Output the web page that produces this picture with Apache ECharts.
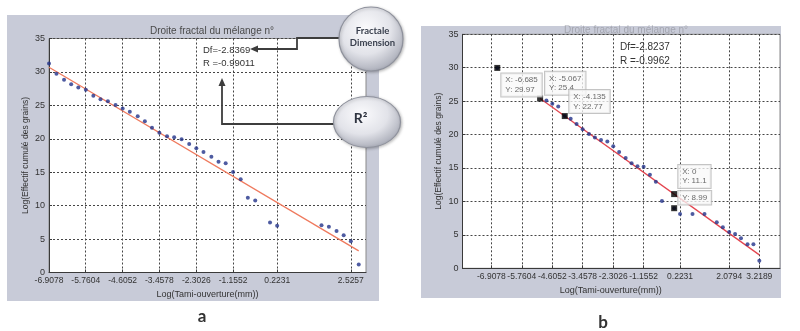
<!DOCTYPE html>
<html>
<head>
<meta charset="utf-8">
<script src="https://cdn.jsdelivr.net/npm/echarts@6/dist/echarts.min.js"></script>
<style>
  html, body { margin: 0; padding: 0; background: #ffffff; }
  #chart { width: 800px; height: 331px; }
</style>
</head>
<body>
<div id="chart"></div>
<script>
// ---- Panel a : log(sieve opening) vs log(cumulative grain count) ----
const ticksA = [-6.9078, -5.7604, -4.6052, -3.4578, -2.3026, -1.1552, 0.2231, 2.5257];
const xA = [-6.9078, -6.6746, -6.4378, -6.2146, -5.9915, -5.7565, -5.5215, -5.2983, -5.0672, -4.8283,
            -4.6052, -4.3820, -4.1352, -3.9120, -3.6889, -3.4578, -3.2189, -2.9957, -2.7646, -2.5257,
            -2.3026, -2.0794, -1.8326, -1.6094, -1.3863, -1.1552, -0.9163, -0.6931, -0.4620, 0,
            0.2231, 1.6094, 1.8405, 2.0794, 2.3026, 2.5257, 2.7726];
const yA = [31.26, 29.72, 28.84, 28.15, 27.67, 27.34, 26.44, 25.92, 25.61, 25.05,
            24.53, 24.05, 23.36, 22.61, 21.66, 20.89, 20.39, 20.22, 19.94, 19.22,
            18.59, 18.02, 17.32, 16.57, 16.35, 15.03, 13.94, 11.17, 10.77, 7.48,
            6.98, 7.06, 6.85, 6.21, 5.58, 4.67, 1.20];
const dfA = -2.8369;
const rA = -0.99011;
const interceptA = 11.1;
const fitSpanA = [-6.9078, 2.7726];

// ---- Panel b ----
const ticksB = [-6.9078, -5.7604, -4.6052, -3.4578, -2.3026, -1.1552, 0.2231, 2.0794, 3.2189];
const xB = [-6.685, -4.8283, -4.6052, -4.3820, -4.135, -3.9120, -3.6889, -3.4578, -3.2189, -2.9957,
            -2.7646, -2.5257, -2.3026, -2.0794, -1.8326, -1.6094, -1.3863, -1.1552, -0.9163, -0.6931,
            -0.4620, 0, 0.2231, 0.6931, 1.1474, 1.6094, 1.8405, 2.0794, 2.3026, 2.5257,
            2.7726, 2.9957, 3.2189];
const yB = [29.97, 25.1, 24.6, 24.2, 22.77, 22.35, 21.6, 20.8, 20.1, 19.55,
            19.2, 18.95, 18.25, 17.4, 16.5, 15.7, 15.25, 15.2, 14.0, 12.95,
            10.07, 8.99, 8.12, 8.12, 8.12, 6.88, 6.13, 5.43, 5.13, 4.49,
            3.59, 3.59, 1.14];
const dfB = -2.8237;
const rB = -0.9962;
const interceptB = 11.1;
const fitSpanB = [-5.067, 3.2189];

// data tips shown on panel b
const tipX = [-6.685, -5.067, -4.135, 0, 0];
const tipY = [29.97, 25.4, 22.77, 11.1, 8.99];
const tipShowsX = [true, true, true, true, false];

const yTicks = [0, 35, 5];           // min, max, step
const titleText = 'Droite fractal du mélange n°';
const xName = 'Log(Tami-ouverture(mm))';
const yName = 'Log(Effectif cumulé des grains)';

// plot boxes
const boxA = { left: 49, top: 38.5, width: 317, height: 234 };
const boxB = { left: 462.5, top: 34.3, width: 317.5, height: 234 };
// tip box placement (relative to the square marker)
const tipBoxPos = [[7, 8.5], [7.9, -23.8], [7.5, -23], [7.1, -26.1], [7.1, -14.2]];

const FONT = '"Liberation Sans", Arial, sans-serif';
const AXIS_COLOR = '#3a3a3a';
const GRID_DASH = [2, 2];
const GRID_COLOR = '#454545';

function zip(xs, ys) { return xs.map((x, i) => [x, ys[i]]); }
function fitLine(df, b, span) { return span.map(x => [x, df * x + b]); }

function xAxisOf(grid, min, max, ticks, namePad) {
  return {
    gridIndex: grid, type: 'value', min: min, max: max, z: 2,
    axisLine: { show: true, onZero: false, lineStyle: { color: AXIS_COLOR, width: 1 } },
    axisTick: { show: true, inside: true, length: 3, customValues: ticks, lineStyle: { color: AXIS_COLOR } },
    axisLabel: { customValues: ticks, formatter: v => String(v), fontFamily: FONT, fontSize: 8.5, color: '#333', margin: 4 },
    splitLine: { show: false },
    name: xName, nameLocation: 'middle', nameGap: 16,
    nameTextStyle: { fontFamily: FONT, fontSize: 9, color: '#333', padding: namePad }
  };
}
function yAxisOf(grid) {
  return {
    gridIndex: grid, type: 'value', min: yTicks[0], max: yTicks[1], interval: yTicks[2], z: 2,
    axisLine: { show: true, onZero: false, lineStyle: { color: AXIS_COLOR, width: 1 } },
    axisTick: { show: true, inside: true, length: 3, lineStyle: { color: AXIS_COLOR } },
    axisLabel: { fontFamily: FONT, fontSize: 9, color: '#333', margin: 4 },
    splitLine: { show: true, lineStyle: { type: GRID_DASH, color: GRID_COLOR, width: 1 } },
    name: yName, nameLocation: 'middle', nameGap: 19,
    nameTextStyle: { fontFamily: FONT, fontSize: 8.5, color: '#333' }
  };
}

// dotted vertical grid lines at the labelled abscissas
function verticalGrid(ticks) {
  return {
    silent: true, symbol: ['none', 'none'], animation: false, z: 2,
    label: { show: false },
    lineStyle: { type: GRID_DASH, color: GRID_COLOR, width: 1 },
    data: ticks.map(v => ({ xAxis: v }))
  };
}

const dotStyle = { color: '#22328a' };

const tipData = tipX.map((x, i) => ({
  value: [x, tipY[i]],
  label: {
    show: true,
    position: tipBoxPos[i],
    formatter: tipShowsX[i] ? ('X: ' + x + '\nY: ' + tipY[i]) : ('Y: ' + tipY[i])
  }
}));

function bubble(cx, cy, r, sy) {
  return {
    type: 'circle', x: cx, y: cy, scaleY: sy,
    shape: { cx: 0, cy: 0, r: r },
    style: {
      fill: { type: 'radial', x: 0.42, y: 0.35, r: 0.7,
        colorStops: [ { offset: 0, color: '#fbfbfd' }, { offset: 0.55, color: '#e2e3e9' }, { offset: 1, color: '#a4a7b3' } ] },
      stroke: '#8e919c', lineWidth: 1.2,
      shadowBlur: 3, shadowColor: 'rgba(0,0,0,0.25)', shadowOffsetX: 1, shadowOffsetY: 1
    }
  };
}

const option = {
  animation: false,
  backgroundColor: '#ffffff',
  title: [
    { text: titleText, left: 207, top: 21, textAlign: 'center',
      textStyle: { fontFamily: FONT, fontSize: 10, fontWeight: 'normal', color: '#4a4a4a' } },
    { text: titleText, left: 621, top: 20, textAlign: 'center',
      textStyle: { fontFamily: FONT, fontSize: 10, fontWeight: 'normal', color: '#a4a6b0' } }
  ],
  grid: [
    Object.assign({ outerBoundsMode: 'none', show: true, backgroundColor: '#ffffff', borderColor: '#8a8a8a', borderWidth: 1, z: 1 }, boxA),
    Object.assign({ outerBoundsMode: 'none', show: true, backgroundColor: '#ffffff', borderColor: '#8a8a8a', borderWidth: 1, z: 1 }, boxB)
  ],
  xAxis: [ xAxisOf(0, -6.9078, 3, ticksA, [0, 0, 0, 0]), xAxisOf(1, -8, 4, ticksB, [0, 21, 0, 0]) ],
  yAxis: [ yAxisOf(0), yAxisOf(1) ],
  series: [
    { type: 'line', xAxisIndex: 0, yAxisIndex: 0, data: fitLine(dfA, interceptA, fitSpanA),
      showSymbol: false, lineStyle: { color: '#ef7a5e', width: 1.3 }, z: 3,
      markLine: verticalGrid(ticksA) },
    { type: 'scatter', xAxisIndex: 0, yAxisIndex: 0, data: zip(xA, yA),
      symbol: 'circle', symbolSize: 4, itemStyle: dotStyle, z: 4 },
    { type: 'line', xAxisIndex: 1, yAxisIndex: 1, data: fitLine(dfB, interceptB, fitSpanB),
      showSymbol: false, lineStyle: { color: '#e4454f', width: 1.3 }, z: 3,
      markLine: verticalGrid(ticksB) },
    { type: 'scatter', xAxisIndex: 1, yAxisIndex: 1, data: zip(xB, yB),
      symbol: 'circle', symbolSize: 4, itemStyle: dotStyle, z: 4 },
    { type: 'scatter', xAxisIndex: 1, yAxisIndex: 1, data: tipData,
      symbol: 'rect', symbolSize: 6, itemStyle: { color: '#000000' }, z: 6,
      label: { fontFamily: FONT, fontSize: 8, lineHeight: 9.5, color: '#444',
        backgroundColor: 'rgba(248,248,248,0.95)', borderColor: '#b5b5b5', borderWidth: 1,
        padding: [2, 4, 2, 4] } }
  ],
  graphic: {
    z: -10,
    elements: [
      // figure backgrounds
      { type: 'rect', z: -10, shape: { x: 7, y: 15, width: 372, height: 286 }, style: { fill: '#c8cbd8' } },
      { type: 'rect', z: -10, shape: { x: 421, y: 26, width: 360, height: 272 }, style: { fill: '#c8cbd8' } }
    ]
  }
};

// overlays drawn above the plots: fit results, callouts, panel letters
const overlay = [
  // upper half of panel b's heading sits outside its figure frame and is washed out
  { type: 'rect', shape: { x: 540, y: 12, width: 165, height: 13.5 }, style: { fill: 'rgba(255,255,255,0.7)' } },
  { type: 'text', x: 203, y: 50, style: { text: 'Df=' + dfA, fontFamily: FONT, fontSize: 9.5, fill: '#333', textVerticalAlign: 'middle' } },
  { type: 'text', x: 203, y: 63, style: { text: 'R =' + rA, fontFamily: FONT, fontSize: 9.5, fill: '#333', textVerticalAlign: 'middle' } },
  { type: 'text', x: 620, y: 47.7, style: { text: 'Df=' + dfB, fontFamily: FONT, fontSize: 10, fill: '#333', textVerticalAlign: 'middle' } },
  { type: 'text', x: 620, y: 61, style: { text: 'R =' + rB, fontFamily: FONT, fontSize: 10, fill: '#333', textVerticalAlign: 'middle' } },
  { type: 'polyline', shape: { points: [[340, 38], [297, 38], [297, 49], [257, 49]] },
    style: { stroke: '#3d3d3d', lineWidth: 1.8, fill: null } },
  { type: 'polygon', shape: { points: [[250, 49], [258, 45.5], [258, 52.5]] }, style: { fill: '#3d3d3d' } },
  { type: 'polyline', shape: { points: [[336, 124], [222, 124], [222, 85]] },
    style: { stroke: '#3d3d3d', lineWidth: 1.8, fill: null } },
  { type: 'polygon', shape: { points: [[222, 78], [218.5, 86], [225.5, 86]] }, style: { fill: '#3d3d3d' } },
  bubble(371, 39, 32, 1),
  bubble(367, 122, 33.5, 0.76),
  { type: 'text', x: 372.5, y: 31, style: { text: 'Fractale', fontFamily: 'Lato, "Open Sans", sans-serif', fontWeight: 'bold', fontSize: 9.5, fill: '#3a404e', textAlign: 'center', textVerticalAlign: 'middle' } },
  { type: 'text', x: 372.5, y: 42.5, style: { text: 'Dimension', fontFamily: 'Lato, "Open Sans", sans-serif', fontWeight: 'bold', fontSize: 9.5, fill: '#3a404e', textAlign: 'center', textVerticalAlign: 'middle' } },
  { type: 'text', x: 360.5, y: 118.5, style: { text: 'R²', fontFamily: 'Lato, "Open Sans", sans-serif', fontWeight: 'bold', fontSize: 14, fill: '#2f3440', textAlign: 'center', textVerticalAlign: 'middle' } },
  { type: 'text', x: 202, y: 317, style: { text: 'a', fontFamily: 'Lato, "Open Sans", sans-serif', fontWeight: 'bold', fontSize: 17, fill: '#333', textAlign: 'center', textVerticalAlign: 'middle' } },
  { type: 'text', x: 603, y: 323, style: { text: 'b', fontFamily: 'Lato, "Open Sans", sans-serif', fontWeight: 'bold', fontSize: 17, fill: '#333', textAlign: 'center', textVerticalAlign: 'middle' } }
];
overlay.forEach(el => { el.z = 100; });
option.graphic.elements = option.graphic.elements.concat(overlay);

const chart = echarts.init(document.getElementById('chart'), null, { renderer: 'canvas' });
chart.setOption(option);
</script>
</body>
</html>
